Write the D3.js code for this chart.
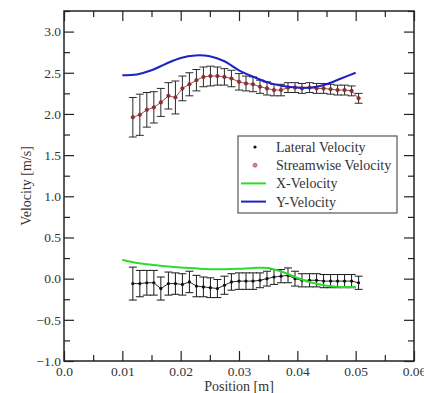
<!DOCTYPE html>
<html>
<head>
<meta charset="utf-8">
<script src="https://cdn.jsdelivr.net/npm/d3@7"></script>
<style>
  html, body { margin: 0; padding: 0; background: #fff; }
</style>
</head>
<body>
<div id="chart"></div>
<script>
// measured points (position in m)
const positions = [0.0118, 0.0130, 0.0142, 0.0154, 0.0166, 0.0179, 0.0191, 0.0203, 0.0215, 0.0227, 0.0239,
    0.0251, 0.0263, 0.0275, 0.0287, 0.0300, 0.0312, 0.0324, 0.0336, 0.0348, 0.0360, 0.0372,
    0.0384, 0.0396, 0.0408, 0.0421, 0.0433, 0.0445, 0.0457, 0.0469, 0.0481, 0.0493, 0.0505];
const lateralVel = [-0.06, -0.06, -0.05, -0.05, -0.12, -0.06, -0.06, -0.07, -0.04, -0.09, -0.10,
    -0.11, -0.12, -0.08, -0.04, -0.03, -0.03, -0.03, -0.02, 0.00, 0.02, 0.03,
    0.04, 0.00, -0.02, -0.02, -0.02, -0.03, -0.03, -0.03, -0.03, -0.03, -0.05];
const lateralErr = [0.20, 0.16, 0.15, 0.15, 0.14, 0.14, 0.13, 0.13, 0.13, 0.13, 0.12,
    0.12, 0.11, 0.11, 0.10, 0.10, 0.10, 0.10, 0.09, 0.09, 0.09, 0.08,
    0.09, 0.09, 0.08, 0.08, 0.08, 0.08, 0.08, 0.08, 0.08, 0.08, 0.08];
const streamVel = [1.96, 1.99, 2.05, 2.08, 2.14, 2.22, 2.20, 2.31, 2.36, 2.41, 2.45,
    2.46, 2.46, 2.45, 2.43, 2.39, 2.37, 2.36, 2.33, 2.31, 2.29, 2.29,
    2.32, 2.32, 2.31, 2.32, 2.31, 2.31, 2.30, 2.29, 2.29, 2.28, 2.19];
const streamErr = [0.24, 0.25, 0.21, 0.19, 0.17, 0.16, 0.20, 0.15, 0.14, 0.13, 0.12,
    0.12, 0.11, 0.10, 0.10, 0.10, 0.09, 0.09, 0.08, 0.08, 0.07, 0.07,
    0.06, 0.06, 0.06, 0.06, 0.06, 0.06, 0.06, 0.06, 0.06, 0.06, 0.06];

// simulated curves
const curvePos = [0.010, 0.0125, 0.015, 0.0175, 0.020, 0.0225, 0.025, 0.0275, 0.030,
    0.0325, 0.035, 0.0375, 0.040, 0.0425, 0.045, 0.0475, 0.050];
const xVelocity = [0.23, 0.19, 0.17, 0.15, 0.135, 0.125, 0.115, 0.115, 0.12,
    0.13, 0.13, 0.08, 0.01, -0.05, -0.085, -0.10, -0.10];
const yVelocity = [2.47, 2.48, 2.53, 2.61, 2.68, 2.71, 2.70, 2.64, 2.53,
    2.45, 2.38, 2.34, 2.32, 2.32, 2.36, 2.43, 2.50];

const xTickValues = [0, 0.01, 0.02, 0.03, 0.04, 0.05, 0.06];
const xMinorValues = [0.005, 0.015, 0.025, 0.035, 0.045, 0.055];
const yTickValues = [-1, -0.5, 0, 0.5, 1, 1.5, 2, 2.5, 3];
const yMinorValues = [-0.75, -0.25, 0.25, 0.75, 1.25, 1.75, 2.25, 2.75, 3.25];
const legendLabels = ["Lateral Velocity", "Streamwise Velocity", "X-Velocity", "Y-Velocity"];

const width = 424, height = 393;
const margin = {left: 64, right: 10, top: 11, bottom: 32};
const serif = "'Liberation Serif', 'Times New Roman', Times, serif";

const svg = d3.select("#chart").append("svg")
    .attr("width", width)
    .attr("height", height)
    .attr("font-family", serif);

const x = d3.scaleLinear().domain([0, 0.06]).range([margin.left, width - margin.right]);
const y = d3.scaleLinear().domain([-1, 3.25]).range([height - margin.bottom, margin.top]);

const fmtX = d => d === 0 ? "0.0" : d3.format(".2f")(d);
const fmtY = d3.format(".1f");

function styleAxis(g) {
    g.attr("font-family", serif);
    g.select(".domain").remove();
    g.selectAll(".tick line").attr("stroke", "#222").attr("stroke-width", 1.2);
    g.selectAll("text")
        .style("font-family", serif)
        .style("font-size", "13.5px")
        .attr("fill", "#333");
}

// axes with inward ticks
svg.append("g").attr("transform", `translate(0,${y.range()[0]})`)
    .call(d3.axisBottom(x).tickValues(xTickValues).tickFormat(fmtX).tickSize(-10).tickPadding(5))
    .call(styleAxis);
svg.append("g").attr("transform", `translate(0,${y.range()[0]})`)
    .call(d3.axisBottom(x).tickValues(xMinorValues).tickFormat("").tickSize(-6))
    .call(styleAxis);
svg.append("g").attr("transform", `translate(0,${margin.top})`)
    .call(d3.axisTop(x).tickValues(xTickValues).tickFormat("").tickSize(-10))
    .call(styleAxis);
svg.append("g").attr("transform", `translate(0,${margin.top})`)
    .call(d3.axisTop(x).tickValues(xMinorValues).tickFormat("").tickSize(-6))
    .call(styleAxis);
svg.append("g").attr("transform", `translate(${margin.left},0)`)
    .call(d3.axisLeft(y).tickValues(yTickValues).tickFormat(fmtY).tickSize(-10).tickPadding(3))
    .call(styleAxis);
svg.append("g").attr("transform", `translate(${margin.left},0)`)
    .call(d3.axisLeft(y).tickValues(yMinorValues).tickFormat("").tickSize(-6))
    .call(styleAxis);
svg.append("g").attr("transform", `translate(${x.range()[1]},0)`)
    .call(d3.axisRight(y).tickValues(yTickValues).tickFormat("").tickSize(-10))
    .call(styleAxis);
svg.append("g").attr("transform", `translate(${x.range()[1]},0)`)
    .call(d3.axisRight(y).tickValues(yMinorValues).tickFormat("").tickSize(-6))
    .call(styleAxis);

// frame
svg.append("rect")
    .attr("x", x.range()[0]).attr("y", y.range()[1])
    .attr("width", x.range()[1] - x.range()[0])
    .attr("height", y.range()[0] - y.range()[1])
    .attr("fill", "none").attr("stroke", "#222").attr("stroke-width", 1.5);

// axis titles
svg.append("text")
    .attr("x", (x.range()[0] + x.range()[1]) / 2)
    .attr("y", 391)
    .attr("text-anchor", "middle")
    .attr("fill", "#333")
    .style("font-family", serif)
    .style("font-size", "14px")
    .text("Position [m]");
svg.append("text")
    .attr("transform", `translate(31,${(y.range()[0] + y.range()[1]) / 2}) rotate(-90)`)
    .attr("text-anchor", "middle")
    .attr("fill", "#333")
    .style("font-family", serif)
    .style("font-size", "14px")
    .text("Velocity [m/s]");

// error bars
function errorBars(vals, errs, color) {
    const data = positions.map((p, i) => ({p, v: vals[i], e: errs[i]}));
    const g = svg.append("g").attr("stroke", color).attr("stroke-width", 1);
    const bars = g.selectAll("g").data(data).enter().append("g");
    bars.append("line")
        .attr("x1", d => x(d.p)).attr("x2", d => x(d.p))
        .attr("y1", d => y(d.v - d.e)).attr("y2", d => y(d.v + d.e));
    bars.append("line")
        .attr("x1", d => x(d.p) - 4).attr("x2", d => x(d.p) + 4)
        .attr("y1", d => y(d.v + d.e)).attr("y2", d => y(d.v + d.e));
    bars.append("line")
        .attr("x1", d => x(d.p) - 4).attr("x2", d => x(d.p) + 4)
        .attr("y1", d => y(d.v - d.e)).attr("y2", d => y(d.v - d.e));
}
errorBars(streamVel, streamErr, "#2a2a2a");
errorBars(lateralVel, lateralErr, "#1a1a1a");

// measured series
const pointLine = d3.line().x(d => x(d[0])).y(d => y(d[1]));
const streamPts = positions.map((p, i) => [p, streamVel[i]]);
const lateralPts = positions.map((p, i) => [p, lateralVel[i]]);

svg.append("path").datum(streamPts)
    .attr("d", pointLine).attr("fill", "none")
    .attr("stroke", "#7a4040").attr("stroke-width", 0.9);
svg.append("g").selectAll("circle").data(streamPts).enter().append("circle")
    .attr("cx", d => x(d[0])).attr("cy", d => y(d[1])).attr("r", 1.8)
    .attr("fill", "#9b2c2c").attr("stroke", "#7a1a1a").attr("stroke-width", 0.5);

svg.append("path").datum(lateralPts)
    .attr("d", pointLine).attr("fill", "none")
    .attr("stroke", "#111").attr("stroke-width", 0.9);
svg.append("g").selectAll("circle").data(lateralPts).enter().append("circle")
    .attr("cx", d => x(d[0])).attr("cy", d => y(d[1])).attr("r", 1.6)
    .attr("fill", "#111");

// simulated curves
const curve = d3.line().x(d => x(d[0])).y(d => y(d[1])).curve(d3.curveCatmullRom);
svg.append("path").datum(curvePos.map((p, i) => [p, xVelocity[i]]))
    .attr("d", curve).attr("fill", "none")
    .attr("stroke", "#2edb2e").attr("stroke-width", 2);
svg.append("path").datum(curvePos.map((p, i) => [p, yVelocity[i]]))
    .attr("d", curve).attr("fill", "none")
    .attr("stroke", "#1c22c4").attr("stroke-width", 2);

// legend
const legend = svg.append("g").attr("transform", "translate(238,136)");
legend.append("rect")
    .attr("width", 159).attr("height", 77)
    .attr("fill", "#fff").attr("stroke", "#555").attr("stroke-width", 1.2);
const rows = legend.selectAll("g.row").data(legendLabels).enter().append("g")
    .attr("class", "row")
    .attr("transform", (d, i) => `translate(0,${11 + i * 18.2})`);
rows.append("text")
    .attr("x", 38).attr("dy", "0.35em")
    .attr("fill", "#333")
    .style("font-family", serif)
    .style("font-size", "14px")
    .text(d => d);
rows.filter((d, i) => i === 0).append("circle")
    .attr("cx", 17).attr("r", 1.6).attr("fill", "#111");
rows.filter((d, i) => i === 1).append("circle")
    .attr("cx", 17).attr("r", 2)
    .attr("fill", "#d88").attr("stroke", "#a33").attr("stroke-width", 0.6);
rows.filter((d, i) => i === 2).append("line")
    .attr("x1", 3).attr("x2", 28)
    .attr("stroke", "#2edb2e").attr("stroke-width", 2);
rows.filter((d, i) => i === 3).append("line")
    .attr("x1", 3).attr("x2", 28)
    .attr("stroke", "#1c22c4").attr("stroke-width", 2);
</script>
</body>
</html>
